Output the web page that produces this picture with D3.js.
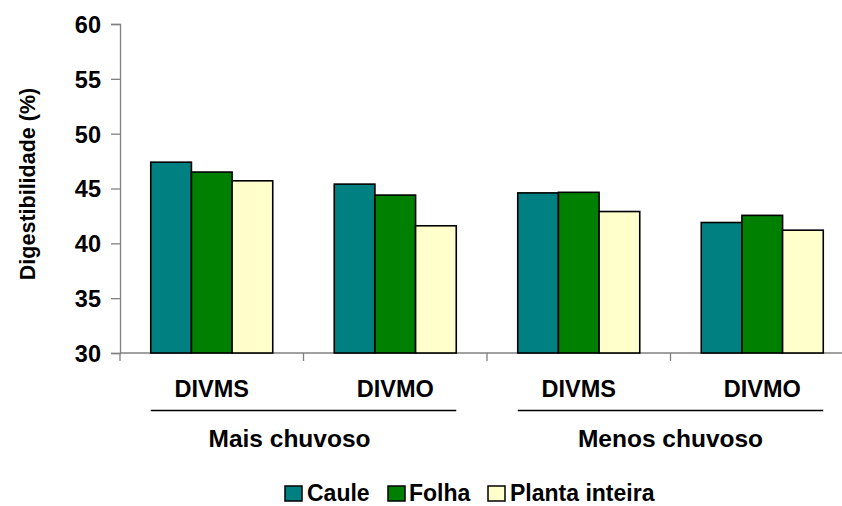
<!DOCTYPE html>
<html><head><meta charset="utf-8">
<script src="https://cdn.jsdelivr.net/npm/d3@7"></script>
<style>body{margin:0;background:#fff}svg{display:block;font-family:"Liberation Sans",Arial,sans-serif;font-weight:bold}</style>
</head><body><svg id="c" width="842" height="506"></svg>
<script>
const categories = ["DIVMS","DIVMO","DIVMS","DIVMO"];
const periods = ["Mais chuvoso","Menos chuvoso"];
const seriesNames = ["Caule","Folha","Planta inteira"];
const caule = [47.4, 45.4, 44.6, 41.9];
const folha = [46.5, 44.4, 44.65, 42.55];
const planta = [45.7, 41.6, 42.9, 41.2];
const yTicks = [30,35,40,45,50,55,60];
const colors = ["#008080","#008000","#FFFFCC"];

const svg = d3.select("#c");
const x0 = d3.scaleBand().domain(d3.range(categories.length)).range([120, 854]).paddingInner(0).paddingOuter(0);
const x1 = d3.scaleBand().domain(d3.range(3)).range([0, 122]);
const y = d3.scaleLinear().domain([30,60]).range([353, 24]);
const series = [caule, folha, planta];

// axes
const yAxis = svg.append("g").attr("transform","translate(120,0)")
  .call(d3.axisLeft(y).tickValues(yTicks).tickSize(9).tickPadding(10).tickFormat(d3.format("d")));
yAxis.attr("font-size",null).attr("font-family",null);
yAxis.select(".domain").attr("stroke","#808080").attr("stroke-width",1.3);
yAxis.selectAll(".tick line").attr("stroke","#808080").attr("stroke-width",1.3);
yAxis.selectAll(".tick text").style("font-size","23.5px").style("font-weight","bold").attr("fill","#000")
  .style("font-family","'Liberation Sans', Arial, sans-serif").attr("dy","0.36em");

// x axis line and ticks
svg.append("line").attr("x1",120).attr("x2",854).attr("y1",y(30)).attr("y2",y(30)).attr("stroke","#808080").attr("stroke-width",1.3);
svg.selectAll(".xt").data(d3.range(categories.length+1)).join("line")
  .attr("x1",d=>120 + d*x0.bandwidth()).attr("x2",d=>120 + d*x0.bandwidth())
  .attr("y1",y(30)).attr("y2",y(30)+8).attr("stroke","#808080").attr("stroke-width",1.3);

// bars
const gap = (x0.bandwidth()-122)/2;
series.forEach((s,si)=>{
  svg.selectAll(".b"+si).data(s).join("rect")
    .attr("x",(d,i)=>x0(i)+gap+x1(si))
    .attr("y",d=>y(d))
    .attr("width",x1.bandwidth())
    .attr("height",d=>y(30)-y(d))
    .attr("fill",colors[si]).attr("stroke","#000").attr("stroke-width",1.6);
});

// category labels
svg.selectAll(".cl").data(categories).join("text")
  .attr("x",(d,i)=>x0(i)+x0.bandwidth()/2).attr("y",397)
  .attr("text-anchor","middle").style("font-size","23.5px").text(d=>d);

// period separators and labels
const labelShift = [-14, 0];
periods.forEach((p,pi)=>{
  const xs = x0(pi*2)+gap, xe = x0(pi*2+1)+gap+122;
  svg.append("line").attr("x1",xs).attr("x2",xe).attr("y1",410.5).attr("y2",410.5).attr("stroke","#000").attr("stroke-width",1.5);
  svg.append("text").attr("x",(xs+xe)/2+labelShift[pi]).attr("y",447)
    .attr("text-anchor","middle").style("font-size","24.5px").text(p);
});

// y title
svg.append("text").attr("transform","translate(35,184) rotate(-90)")
  .attr("text-anchor","middle").style("font-size","21.5px").text("Digestibilidade (%)");

// legend
const legX = [285, 388, 488];
const legTX = [307, 409, 510];
seriesNames.forEach((n,i)=>{
  svg.append("rect").attr("x",legX[i]).attr("y",486).attr("width",17).attr("height",15)
    .attr("fill",colors[i]).attr("stroke","#000").attr("stroke-width",1.5);
  svg.append("text").attr("x",legTX[i]).attr("y",501).style("font-size","23px").text(n);
});
</script></body></html>
